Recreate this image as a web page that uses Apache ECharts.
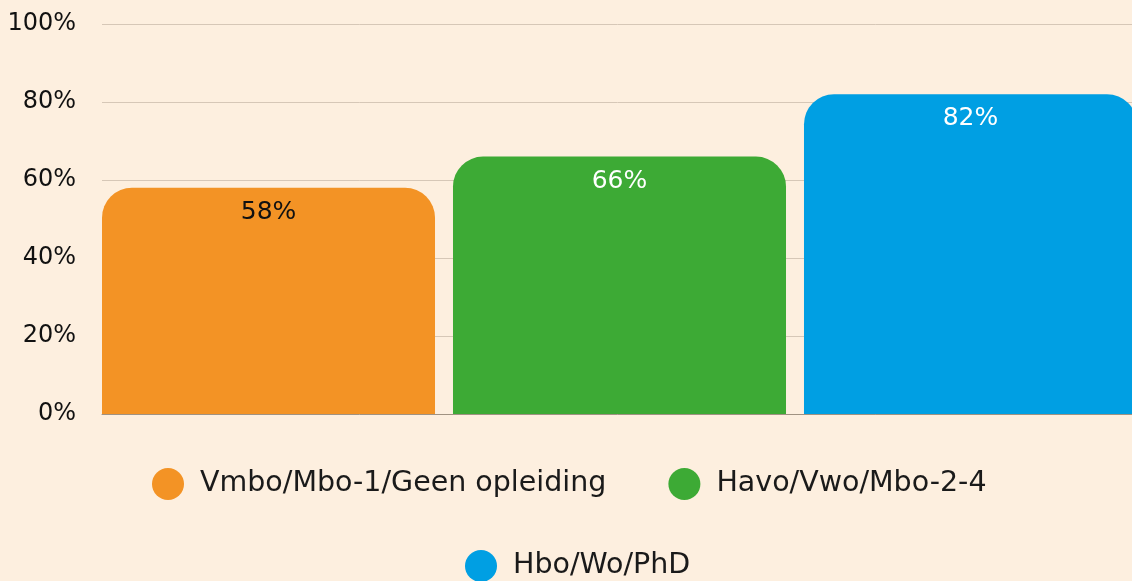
<!DOCTYPE html>
<html>
<head>
<meta charset="utf-8">
<script src="https://cdn.jsdelivr.net/npm/echarts@6/dist/echarts.min.js"></script>
<style>
  html, body { margin: 0; padding: 0; background: #fdefdf; }
  #chart { width: 1132px; height: 581px; }
</style>
</head>
<body>
<div id="chart"></div>
<script>
// education groups (one bar each)
const groups = ["Vmbo/Mbo-1/Geen opleiding", "Havo/Vwo/Mbo-2-4", "Hbo/Wo/PhD"];
const shares = [58, 66, 82]; // percent
const y_ticks = [0, 20, 40, 60, 80, 100];
const colors = ["#f39325", "#3daa35", "#009fe3"];
const label_colors = ["#111111", "#ffffff", "#ffffff"];

const FONT = "DejaVu Sans";

const chart = echarts.init(document.getElementById("chart"), null, { renderer: "canvas" });

const series = groups.map((name, i) => ({
    name,
    type: "bar",
    data: [shares[i]],
    barGap: "5.4%",
    barCategoryGap: "0%",
    itemStyle: { color: colors[i], borderRadius: [30, 30, 0, 0] },
    label: {
        show: true,
        position: "insideTop",
        distance: 12,
        formatter: "{c}%",
        color: label_colors[i],
        fontFamily: FONT,
        fontSize: 25,
    },
}));

const legend_base = {
    orient: "horizontal",
    icon: "circle",
    padding: 0,
    itemWidth: 32,
    itemHeight: 32,
    itemGap: 62,
    textStyle: { fontFamily: FONT, fontSize: 28.5, color: "#1a1a1a", padding: [0, 0, 0, 11] },
};

chart.setOption({
    backgroundColor: "#fdefdf",
    animation: false,
    grid: { left: 102, right: -5, top: 24, bottom: 167, outerBoundsMode: "none" },
    legend: [
        { ...legend_base, data: groups.slice(0, 2), left: 152, top: 468 },
        { ...legend_base, data: groups.slice(2), left: 465, top: 550 },
    ],
    xAxis: {
        type: "category",
        data: ["Opleiding"],
        axisLine: { show: true, lineStyle: { color: "#a09282", width: 1 } },
        axisTick: { show: false },
        axisLabel: { show: false },
        z: 0,
    },
    yAxis: {
        type: "value",
        min: y_ticks[0],
        max: y_ticks[y_ticks.length - 1],
        interval: 20,
        axisLine: { show: false },
        axisTick: { show: false },
        axisLabel: {
            formatter: "{value}%",
            margin: 26,
            color: "#111111",
            fontFamily: FONT,
            fontSize: 24,
        },
        splitLine: { lineStyle: { color: "#d6c7b7", width: 1 } },
    },
    series,
});
</script>
</body>
</html>
